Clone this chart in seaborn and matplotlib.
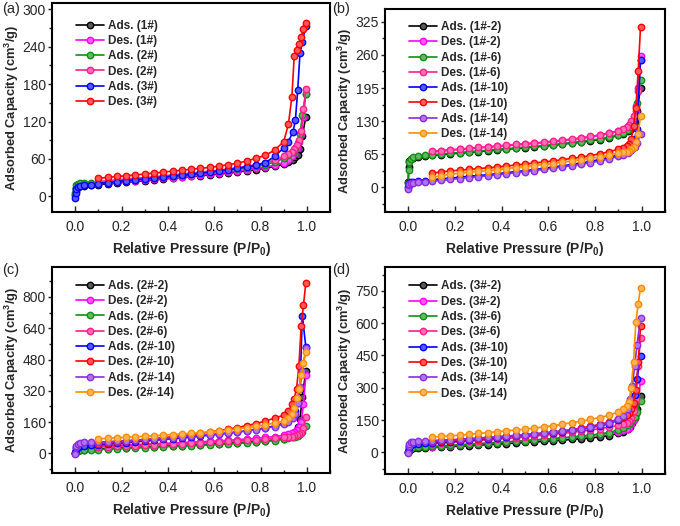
import matplotlib
matplotlib.use('Agg')
import matplotlib.pyplot as plt
from matplotlib.ticker import MultipleLocator
from matplotlib.colors import to_rgb
import seaborn as sns

# relative pressure points, adsorption (up) and desorption (down) branches
P_ADS = [0.0, 0.002, 0.005, 0.01, 0.02, 0.04, 0.07,
         0.1, 0.14, 0.18, 0.22, 0.26, 0.3, 0.34, 0.38, 0.42, 0.46, 0.5,
         0.54, 0.58, 0.62, 0.66, 0.7, 0.74, 0.78, 0.82, 0.86, 0.9,
         0.92, 0.94, 0.95, 0.96, 0.97, 0.98, 0.995]
P_DES = [0.995, 0.985, 0.975, 0.965, 0.955, 0.945, 0.935, 0.92,
         0.9, 0.86, 0.82, 0.78, 0.74, 0.7, 0.66, 0.62, 0.58, 0.54, 0.5,
         0.46, 0.42, 0.38, 0.34, 0.3, 0.26, 0.22, 0.18, 0.14, 0.1]

# ---- panel (a)
a_labels = ['Ads. (1#)', 'Des. (1#)', 'Ads. (2#)', 'Des. (2#)', 'Ads. (3#)', 'Des. (3#)']
a_ads1 = [3, 9, 13, 15, 16, 17, 18,
          19, 20, 21.5, 23, 24, 25, 26.5, 28, 29, 30.5, 32, 33, 34.5, 36, 37.5, 39, 41, 43, 45, 48, 52,
          55, 59, 63, 67, 76, 97, 127]
a_des1 = [165, 128, 100, 88, 78, 70, 64, 58,
          54, 50, 47, 45, 43, 41, 39, 37.5, 36, 34.5, 33, 31.5, 30, 29, 27.5, 26, 25, 24, 22.5, 21.5, 20.5]
a_ads2 = [5, 14, 18, 20, 21, 22, 22,
          22, 23, 24.5, 26, 27, 28.5, 30, 31, 32.5, 34, 35.5, 37, 38.5, 40, 42, 44, 46, 48.5, 51, 55, 61,
          66, 72, 78, 86, 100, 130, 165]
a_des2 = [172, 140, 105, 90, 82, 76, 72, 68,
          64, 58, 54, 51, 48.5, 46, 44, 42, 40.5, 39, 37.5, 36, 34.5, 33, 31.5, 30, 29, 27.5, 26.5, 25, 24]
a_ads3 = [-2, 6, 12, 15, 17, 18, 19,
          20.5, 22, 23.5, 25, 26.5, 28, 29.5, 31, 32.5, 34, 35.5, 37, 39, 41, 43, 45, 47.5, 50, 54, 64, 78,
          88, 104, 122, 170, 230, 248, 274]
a_des3 = [278, 268, 255, 245, 235, 225, 160, 116,
          88, 74, 66, 61, 57, 53, 51, 48.5, 46.5, 45, 43.5, 42, 40.5, 39, 37.5, 36, 34.5, 33, 32, 30.5, 29]

# ---- panel (b)
b_labels = ['Ads. (1#-2)', 'Des. (1#-2)', 'Ads. (1#-6)', 'Des. (1#-6)',
            'Ads. (1#-10)', 'Des. (1#-10)', 'Ads. (1#-14)', 'Des. (1#-14)']
b_ads1 = [10, 40, 52, 56, 58, 60, 62,
          63, 64.5, 66, 67.5, 69, 70.5, 72, 73.5, 75, 76.5, 78, 79.5, 81, 83, 85, 87, 89, 91.5, 94, 97.5, 102,
          105, 110, 113, 118, 128, 150, 195]
b_des1 = [258, 195, 150, 135, 126, 121, 117, 113,
          110, 106, 102, 99, 96.5, 94, 92, 90, 88, 86.5, 85, 83.5, 82, 80.5, 79, 77.5, 76, 74.5, 73, 71.5, 70]
b_ads2 = [8, 35, 50, 56, 59, 62, 64,
          64, 65.5, 67, 68.5, 70, 71.5, 73, 74.5, 76, 77.5, 79, 80.5, 82, 84, 86, 88, 90, 92.5, 95, 98.5, 103,
          107, 113, 118, 126, 140, 165, 210]
b_des2 = [250, 190, 160, 140, 130, 123, 118, 114,
          111, 107, 103, 100, 97.5, 95, 93, 91, 89, 87.5, 86, 84.5, 83, 81.5, 80, 78.5, 77, 75.5, 74, 72.5, 71]
b_ads3 = [0, 5, 8, 10, 11, 12, 13,
          15, 17, 18.5, 20, 22, 23.5, 25, 27, 29, 31, 33, 35, 37.5, 40, 42.5, 45, 48, 51, 55, 59, 64,
          67, 72, 76, 82, 95, 115, 250]
b_des3 = [315, 228, 155, 120, 95, 86, 82, 78,
          75, 70, 66, 62.5, 59.5, 57, 54.5, 52, 50, 48, 46, 44, 42, 40, 38.5, 37, 35.5, 34, 32.5, 30.5, 28]
b_ads4 = [-2, 4, 7, 8, 9, 10, 11,
          12.5, 14, 16, 17.5, 19.5, 21, 23, 25, 27, 29, 31, 33, 35.5, 38, 40.5, 43, 45.5, 48.5, 52, 56, 61,
          64, 68, 71, 75, 80, 88, 105]
b_des4 = [140, 105, 90, 80, 75, 72, 70, 69,
          68, 63.5, 60, 57, 54.5, 52, 49.5, 47, 45, 43, 41, 39, 37, 35, 33, 31.5, 30, 28, 26, 23, 20]

# ---- panel (c)
c_labels = ['Ads. (2#-2)', 'Des. (2#-2)', 'Ads. (2#-6)', 'Des. (2#-6)',
            'Ads. (2#-10)', 'Des. (2#-10)', 'Ads. (2#-14)', 'Des. (2#-14)']
c_ads1 = [0, 8, 12, 15, 17, 18, 20,
          22, 24, 26, 28, 30, 32, 34, 36, 38, 40, 42, 44, 46.5, 49, 51.5, 54, 57, 60, 64, 68, 75,
          82, 95, 110, 135, 175, 290, 420]
c_des1 = [400, 250, 160, 135, 120, 110, 104, 98,
          92, 86, 81, 77, 73, 70, 67, 64, 61.5, 59, 57, 55, 53, 51, 49, 47, 45, 43, 41, 39, 36]
c_ads2 = [0, 6, 10, 13, 15, 17, 18,
          19.5, 21.5, 23.5, 25.5, 27.5, 29.5, 31.5, 33.5, 35.5, 37.5, 39.5, 41.5, 43.5, 46, 48.5, 51, 54, 57,
          61, 65, 72,
          76, 82, 86, 90, 97, 110, 140]
c_des2 = [185, 130, 105, 97, 92, 89, 86, 84,
          81, 76, 72, 69, 66, 63, 61, 58.5, 56, 54, 52, 50, 48, 46, 44, 42, 40, 38, 36, 34, 32]
c_ads3 = [0, 15, 25, 30, 35, 38, 41,
          44, 47, 51, 55, 59, 63, 67, 71, 75, 79, 83, 88, 93, 98, 103, 109, 115, 122, 130, 140, 155,
          170, 190, 215, 260, 330, 705, 545]
c_des3 = [870, 760, 650, 445, 330, 280, 250, 215,
          195, 180, 165, 152, 142, 132, 124, 116, 109, 102, 96, 90, 85, 80, 75, 70, 66, 62, 58, 54, 50]
c_ads4 = [-5, 30, 40, 47, 52, 56, 58,
          58, 60, 62, 65, 68, 71, 74, 77, 80, 84, 88, 92, 96, 100, 105, 110, 115, 121, 128, 137, 150,
          160, 180, 200, 260, 340, 420, 540]
c_des4 = [520, 460, 400, 330, 285, 230, 200, 180,
          165, 155, 145, 138, 131, 125, 119, 114, 110, 106, 102, 99, 96, 93, 90, 87, 85, 82, 80, 77, 74]

# ---- panel (d)
d_labels = ['Ads. (3#-2)', 'Des. (3#-2)', 'Ads. (3#-6)', 'Des. (3#-6)',
            'Ads. (3#-10)', 'Des. (3#-10)', 'Ads. (3#-14)', 'Des. (3#-14)']
d_ads1 = [0, 8, 13, 16, 19, 21, 22,
          23, 25, 27, 29, 31, 33.5, 36, 38.5, 41, 43.5, 46, 48.5, 51, 54, 57, 60, 63.5, 67, 72, 78, 88,
          95, 110, 120, 135, 160, 200, 260]
d_des1 = [330, 240, 180, 150, 130, 115, 108, 102,
          97, 90, 85, 80, 76, 72, 68, 64.5, 61, 58, 55, 52, 49, 46, 43, 40, 37, 34, 31, 28, 25]
d_ads2 = [0, 10, 16, 20, 23, 25, 27,
          28, 30, 32.5, 35, 37.5, 40, 42.5, 45, 48, 51, 54, 57, 60, 63, 66.5, 70, 74, 79, 85, 92, 105,
          112, 125, 135, 150, 165, 188, 240]
d_des2 = [530, 400, 250, 190, 160, 145, 137, 130,
          125, 117, 110, 104, 98, 93, 88, 84, 80, 76, 72, 68, 65, 61, 58, 55, 52, 49, 46, 43, 40]
d_ads3 = [0, 20, 28, 33, 37, 40, 42,
          44, 47, 50, 53, 56, 60, 64, 68, 72, 76, 80, 84, 88, 92, 97, 102, 108, 115, 123, 133, 150,
          165, 185, 200, 220, 265, 342, 446]
d_des3 = [585, 420, 288, 230, 200, 185, 175, 165,
          155, 140, 130, 121, 113, 106, 100, 95, 90, 86, 82, 78, 75, 71, 67, 64, 61, 58, 55, 52, 49]
d_ads4 = [-5, 30, 40, 46, 50, 52, 54,
          55, 57, 59, 61, 64, 67, 70, 73, 76, 79, 82, 86, 90, 94, 99, 104, 110, 117, 125, 136, 155,
          170, 200, 250, 310, 400, 500, 625]
d_des4 = [765, 690, 605, 420, 300, 235, 215, 200,
          188, 172, 162, 153, 145, 138, 131, 124, 118, 113, 108, 104, 100, 96, 92, 88, 84, 80, 77, 74, 71]

COLORS8 = ['#000000', '#FF00FF', '#109010', '#FF1E8C', '#0000FF', '#FF0000', '#8A2BE2', '#FF8C00']
COLORS6 = ['#000000', '#FF00FF', '#109010', '#FF1E8C', '#0000FF', '#FF0000']

# tag, labels, series, colours, ylim, y tick step, last labelled y tick
panels = [
    ('(a)', a_labels, [a_ads1, a_des1, a_ads2, a_des2, a_ads3, a_des3], COLORS6, (-25, 310), 60, 300),
    ('(b)', b_labels, [b_ads1, b_des1, b_ads2, b_des2, b_ads3, b_des3, b_ads4, b_des4], COLORS8, (-48, 350), 65, 325),
    ('(c)', c_labels, [c_ads1, c_des1, c_ads2, c_des2, c_ads3, c_des3, c_ads4, c_des4], COLORS8, (-100, 955), 160, 800),
    ('(d)', d_labels, [d_ads1, d_des1, d_ads2, d_des2, d_ads3, d_des3, d_ads4, d_des4], COLORS8, (-100, 860), 150, 750),
]

rects = [
    [0.0765, 0.597, 0.409, 0.397],
    [0.566, 0.597, 0.412, 0.386],
    [0.0765, 0.101, 0.409, 0.392],
    [0.566, 0.099, 0.412, 0.393],
]
tagpos = [(0.003, 0.983), (0.489, 0.983), (0.003, 0.487), (0.489, 0.487)]
leg_y = [0.955, 0.975, 0.97, 0.97]

sns.set_style('ticks')
plt.rcParams['font.family'] = ['Liberation Sans', 'DejaVu Sans']
plt.rcParams['mathtext.fontset'] = 'custom'
plt.rcParams['mathtext.rm'] = 'Liberation Sans'
plt.rcParams['mathtext.bf'] = 'Liberation Sans:bold'


def lighten(c, f=0.35):
    r, g, b = to_rgb(c)
    return (r + (1 - r) * f, g + (1 - g) * f, b + (1 - b) * f)


fig = plt.figure(figsize=(6.8, 5.26), dpi=100)

for (tag, labels, series, colors, ylim, ystep, ytop), rect, tp, ly in zip(panels, rects, tagpos, leg_y):
    ax = fig.add_axes(rect)
    for i, (lab, vals, col) in enumerate(zip(labels, series, colors)):
        pp = P_ADS if i % 2 == 0 else P_DES
        sns.lineplot(x=pp, y=vals, ax=ax, sort=False, estimator=None, color=col,
                     marker='o', markersize=4.6, linewidth=1.2, label=lab)
    for line, col in zip(ax.lines, colors):
        line.set_markeredgecolor(col)
        line.set_markerfacecolor(lighten(col))
        line.set_markeredgewidth(1.0)

    ax.set_xlim(-0.1, 1.1)
    ax.set_ylim(*ylim)
    ax.xaxis.set_major_locator(MultipleLocator(0.2))
    ax.xaxis.set_minor_locator(MultipleLocator(0.1))
    ax.yaxis.set_minor_locator(MultipleLocator(ystep / 2))
    ax.set_yticks(list(range(0, ytop + 1, ystep)))
    ax.xaxis.set_major_formatter(plt.FuncFormatter(lambda v, p: f'{v:.1f}'))
    ax.tick_params(axis='x', which='both', direction='in', labelsize=10, pad=6)
    ax.tick_params(axis='x', which='major', length=4, width=1)
    ax.tick_params(axis='x', which='minor', length=2.5, width=1)
    ax.tick_params(axis='y', which='both', direction='out', labelsize=10, pad=1.5)
    ax.tick_params(axis='y', which='major', length=3, width=1)
    ax.tick_params(axis='y', which='minor', length=2, width=1)
    for sp in ax.spines.values():
        sp.set_visible(True)
        sp.set_linewidth(1.5)
        sp.set_color('black')

    ax.set_xlabel('Relative Pressure (P/P$_\\mathbf{0}$)', fontsize=10, fontweight='bold', labelpad=4)
    ax.set_ylabel('Adsorbed Capacity (cm$^\\mathbf{3}$/g)', fontsize=9.3, fontweight='bold', labelpad=1)

    ax.legend(loc='upper left', bbox_to_anchor=(0.06, ly), frameon=False,
              prop={'weight': 'bold', 'size': 8.5}, handlelength=2.4, handletextpad=0.3,
              labelspacing=0.28, borderaxespad=0.2)

    fig.text(tp[0], tp[1], tag, fontsize=10.5, va='center', ha='left')

fig.savefig('out.png', dpi=100)
